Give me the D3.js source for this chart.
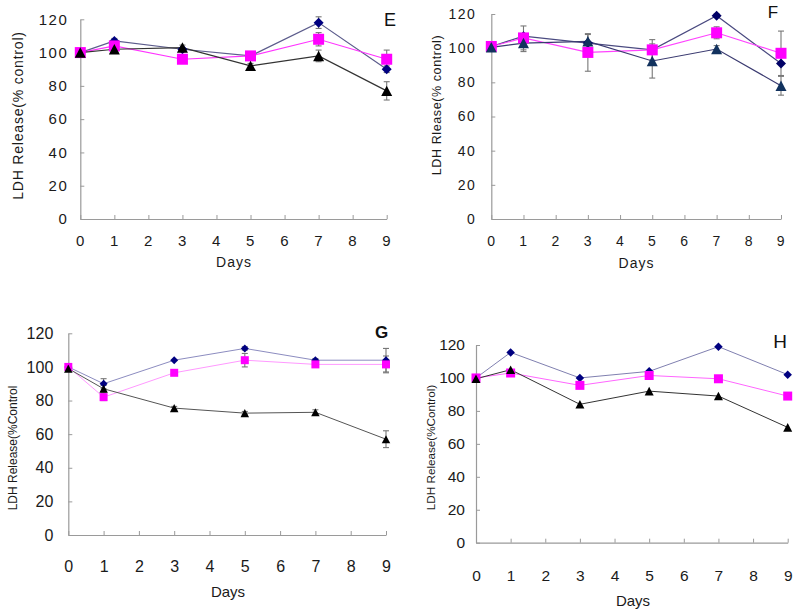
<!DOCTYPE html>
<html><head><meta charset="utf-8">
<script src="https://cdn.jsdelivr.net/npm/d3@7"></script>
<style>body{margin:0;background:#fff} svg{display:block}</style>
</head><body><svg id="c" width="800" height="614"></svg>
<script>
// ---------- data ----------
const days=[0,1,3,5,7,9];
const xTickValues=[0,1,2,3,4,5,6,7,8,9];
const yTickValues=[0,20,40,60,80,100,120];

const eDiamond=[100,107,102,98,118,90];
const eSquare=[100,104,96,98,108,96];
const eTriangle=[100,102,103,92,98,77];
const eDiamondErr=[0,1.5,0,0,3.5,2];
const eSquareErr=[0,1.5,0,1,4,5.5];
const eTriangleErr=[0,1,1.5,1.5,3.5,5.5];

const fDiamond=[101,107,103,99,119,91];
const fSquare=[101,106,97.5,99,109,97];
const fTriangle=[100.5,103,104,92.5,99.5,78];
const fDiamondErr=[0,0,0,0,1,0];
const fSquareErr=[0,7,11,6,3.5,13];
const fTriangleErr=[0,5,4,10,2,5.5];

const gDiamond=[100,90,104,111,104,104];
const gSquare=[100,82,96.5,104,101.5,101.5];
const gTriangle=[99,87,75.5,72.5,73,57];
const gDiamondErr=[0,3,0,1,1,7];
const gSquareErr=[0,2,1,4,1.5,5];
const gTriangleErr=[0,2,1,1,1.5,5];

const hDiamond=[100,115.5,100,104,119,102];
const hSquare=[100,103,95.5,101.5,99.5,89];
const hTriangle=[99.5,105,84,92,89,70];
const hNoErr=[0,0,0,0,0,0];

const yTitles=["LDH Release(% control)","LDH Rlease(% control)","LDH Release(%Control","LDH Release(%Control)"];
const panelLetters=["E","F","G","H"];
const xTitle="Days";

// ---------- custom symbols (size = width^2) ----------
const symDiamond={draw(ctx,size){const r=Math.sqrt(size)/2;ctx.moveTo(0,-r);ctx.lineTo(r,0);ctx.lineTo(0,r);ctx.lineTo(-r,0);ctx.closePath();}};
const symSquare={draw(ctx,size){const r=Math.sqrt(size)/2;ctx.rect(-r,-r,2*r,2*r);}};
const symTriangle={draw(ctx,size){const r=Math.sqrt(size)/2;const h=r*0.95;ctx.moveTo(0,-h);ctx.lineTo(r,h);ctx.lineTo(-r,h);ctx.closePath();}};

const panels=[
 {xr:[80.3,386.7],yr:[219,19.3],tf:15,tls:1.5,xpad:16,ypad:12,
  yt:{x:18,y:115.5,s:14,ls:0.8},dx:{x:234,y:267,s:14,ls:1},lt:{x:390,y:26,s:18,w:400},
  ms:{d:10,s:11,t:11},lw:1.2,
  series:[
   {v:eDiamond,e:eDiamondErr,sym:symDiamond,k:"d",fill:"#000080",line:"#5c5c8c"},
   {v:eSquare,e:eSquareErr,sym:symSquare,k:"s",fill:"#ff00ff",line:"#ff33ff"},
   {v:eTriangle,e:eTriangleErr,sym:symTriangle,k:"t",fill:"#000000",line:"#333333"}]},
 {xr:[491.3,781],yr:[219,14],tf:14,tls:1.5,xpad:17,ypad:15,
  yt:{x:437,y:105,s:12.5,ls:0.6},dx:{x:636.5,y:268,s:14,ls:1},lt:{x:773,y:18,s:17,w:400},
  ms:{d:10,s:11,t:11},lw:1.2,
  series:[
   {v:fDiamond,e:fDiamondErr,sym:symDiamond,k:"d",fill:"#000066",line:"#4a4a80"},
   {v:fSquare,e:fSquareErr,sym:symSquare,k:"s",fill:"#ff00ff",line:"#ff44ff"},
   {v:fTriangle,e:fTriangleErr,sym:symTriangle,k:"t",fill:"#12325e",line:"#3a3a70"}]},
 {xr:[68.3,386],yr:[535,333.3],tf:16,tls:0,xpad:26,ypad:15,
  yt:{x:13,y:448,s:12,ls:0},dx:{x:228,y:597,s:15,ls:0},lt:{x:381.7,y:338,s:17,w:700},
  ms:{d:8,s:8,t:8.5},lw:1,
  series:[
   {v:gDiamond,e:gDiamondErr,sym:symDiamond,k:"d",fill:"#000080",line:"#8c8cc0"},
   {v:gSquare,e:gSquareErr,sym:symSquare,k:"s",fill:"#ff00ff",line:"#ff99ff"},
   {v:gTriangle,e:gTriangleErr,sym:symTriangle,k:"t",fill:"#000000",line:"#555555"}]},
 {xr:[476,787.7],yr:[542.7,345],tf:15.5,tls:0,xpad:27,ypad:11,
  yt:{x:431,y:447.5,s:11.7,ls:0},dx:{x:633,y:606,s:15,ls:0},lt:{x:780,y:348,s:19,w:400},
  ms:{d:8.5,s:9,t:9},lw:1,
  series:[
   {v:hDiamond,e:hNoErr,sym:symDiamond,k:"d",fill:"#000080",line:"#8080b0"},
   {v:hSquare,e:hNoErr,sym:symSquare,k:"s",fill:"#ff00ff",line:"#ff66ff"},
   {v:hTriangle,e:hNoErr,sym:symTriangle,k:"t",fill:"#000000",line:"#333333"}]}
];

const svg=d3.select("#c");
const FONT="'Liberation Sans', Arial, sans-serif";
const axisCol="#9a9a9a";

panels.forEach((p,pi)=>{
  const x=d3.scaleLinear().domain([0,9]).range(p.xr);
  const y=d3.scaleLinear().domain([0,120]).range(p.yr);
  const g=svg.append("g");

  const xa=g.append("g").attr("transform",`translate(0,${p.yr[0]})`)
    .call(d3.axisBottom(x).tickValues(xTickValues).tickSize(-4).tickSizeOuter(0).tickPadding(p.xpad).tickFormat(d3.format("d")));
  const ya=g.append("g").attr("transform",`translate(${p.xr[0]},0)`)
    .call(d3.axisLeft(y).tickValues(yTickValues).tickSize(-4).tickSizeOuter(0).tickPadding(p.ypad).tickFormat(d3.format("d")));
  [xa,ya].forEach(a=>{
    a.select(".domain").attr("stroke",axisCol).attr("stroke-width",1.2);
    a.selectAll(".tick line").attr("stroke",axisCol);
    a.selectAll("text").attr("fill","#1a1a1a").style("font-family",FONT).style("font-size",p.tf+"px").style("letter-spacing",p.tls+"px");
  });

  // error bars
  p.series.forEach(s=>{
    days.forEach((d,i)=>{
      const e=s.e[i]; if(!e) return;
      const cx=x(d), y1=y(s.v[i]+e), y2=y(s.v[i]-e);
      g.append("line").attr("x1",cx).attr("x2",cx).attr("y1",y1).attr("y2",y2).attr("stroke","#777").attr("stroke-width",1.1);
      [y1,y2].forEach(yy=>g.append("line").attr("x1",cx-3).attr("x2",cx+3).attr("y1",yy).attr("y2",yy).attr("stroke","#777").attr("stroke-width",1.1));
    });
  });

  // lines and markers
  const line=d3.line().x((d,i)=>x(days[i])).y(d=>y(d));
  p.series.forEach(s=>{
    g.append("path").datum(s.v).attr("d",line).attr("fill","none").attr("stroke",s.line).attr("stroke-width",p.lw);
  });
  p.series.forEach(s=>{
    const sz=p.ms[s.k];
    g.selectAll(null).data(s.v).join("path")
      .attr("transform",(d,i)=>`translate(${x(days[i])},${y(d)})`)
      .attr("d",d3.symbol().type(s.sym).size(sz*sz)())
      .attr("fill",s.fill);
  });

  // titles
  g.append("text").attr("transform",`translate(${p.yt.x},${p.yt.y}) rotate(-90)`)
    .attr("text-anchor","middle").attr("dy","0.35em")
    .style("font-family",FONT).style("font-size",p.yt.s+"px").style("letter-spacing",p.yt.ls+"px")
    .attr("fill","#1a1a1a").text(yTitles[pi]);
  g.append("text").attr("x",p.dx.x).attr("y",p.dx.y).attr("text-anchor","middle")
    .style("font-family",FONT).style("font-size",p.dx.s+"px").style("letter-spacing",p.dx.ls+"px")
    .attr("fill","#1a1a1a").text(xTitle);
  g.append("text").attr("x",p.lt.x).attr("y",p.lt.y).attr("text-anchor","middle")
    .style("font-family",FONT).style("font-size",p.lt.s+"px").style("font-weight",p.lt.w)
    .attr("fill","#111").text(panelLetters[pi]);
});
</script>
</body></html>
